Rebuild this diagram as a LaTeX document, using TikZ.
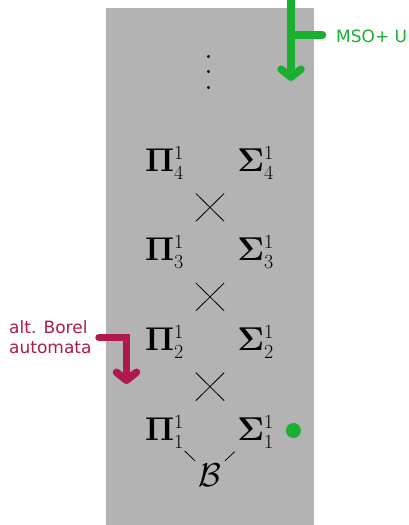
\RequirePackage{fix-cm}
\documentclass[tikz,border=0pt]{standalone}
\usepackage[no-math]{fontspec}
\newfontfamily\labelfont{DejaVu Sans}
\usetikzlibrary{arrows.meta}
\DeclareMathSizes{33}{33}{20}{14}
\definecolor{panelgray}{RGB}{179,179,179}
\definecolor{msogreen}{RGB}{27,175,48}
\definecolor{borelred}{RGB}{176,24,80}
\begin{document}
\begin{tikzpicture}[x=1pt,y=-1pt,
  level/.style={inner sep=0pt, font=\fontsize{33}{40}\selectfont},
  link/.style={line width=0.8pt},
  marker/.style={line width=7.5pt, line cap=round, line join=miter},
  barbtip/.style={-{Straight Barb[round,length=8pt,width=20pt]}},
  note/.style={inner sep=0pt, font=\labelfont\fontsize{17}{20}\selectfont}
]
\useasboundingbox (0,0) rectangle (409,525);

% grey panel holding the hierarchy
\fill[panelgray] (106,8) rectangle (313.5,525);

% continuation dots above the hierarchy
\node[inner sep=0pt] (dots) at (208.5,72.5)
  {\fontsize{36}{15}\selectfont\vbox{\baselineskip=15.3pt\hbox{.}\hbox{.}\hbox{.}}};

% projective classes
\node[level, anchor=base] (p4) at (164.5,171) {$\mathbf{\Pi}^1_4$};
\node[level, anchor=base] (s4) at (255.5,171) {$\mathbf{\Sigma}^1_4$};
\node[level, anchor=base] (p3) at (164.5,260.5) {$\mathbf{\Pi}^1_3$};
\node[level, anchor=base] (s3) at (255.5,260.5) {$\mathbf{\Sigma}^1_3$};
\node[level, anchor=base] (p2) at (164.5,350) {$\mathbf{\Pi}^1_2$};
\node[level, anchor=base] (s2) at (255.5,350) {$\mathbf{\Sigma}^1_2$};
\node[level, anchor=base] (p1) at (164.5,440) {$\mathbf{\Pi}^1_1$};
\node[level, anchor=base] (s1) at (255.5,440) {$\mathbf{\Sigma}^1_1$};
\node[level, anchor=base] (b) at (210,486.5) {$\mathcal{B}$};

% inclusions between consecutive levels
\foreach \hi/\lo in {4/3,3/2,2/1}{
  \draw[link, shorten <=44pt, shorten >=44pt] (p\hi.center) -- (s\lo.center);
  \draw[link, shorten <=44pt, shorten >=44pt] (s\hi.center) -- (p\lo.center);
}
\draw[link, shorten <=28pt, shorten >=20.5pt] (p1.center) -- (b.center);
\draw[link, shorten <=29pt, shorten >=20.5pt] (s1.center) -- (b.center);

% MSO+U marker
\coordinate (gtop) at (291,-4);
\coordinate (gend) at (291,81);
\coordinate (gfork) at (291,35);
\coordinate (gcap) at (322.5,35);
\draw[marker, msogreen, barbtip] (gtop) -- (gend);
\draw[marker, msogreen] (gfork) -- (gcap);
\node[note, text=msogreen, anchor=base west] (mso) at (336,42.5) {MSO+ U};

% Sigma^1_1 marker
\node[circle, fill=msogreen, minimum size=15pt, inner sep=0pt] (dot) at (293.4,430.5) {};

% alternating Borel automata marker
\coordinate (rstart) at (99,337.5);
\coordinate (rend) at (126.5,384);
\draw[marker, borelred, barbtip] (rstart) -| (rend);
\node[note, text=borelred, anchor=base west, align=left] (borel) at (9,353)
  {alt. Borel\\automata};
\end{tikzpicture}
\end{document}
